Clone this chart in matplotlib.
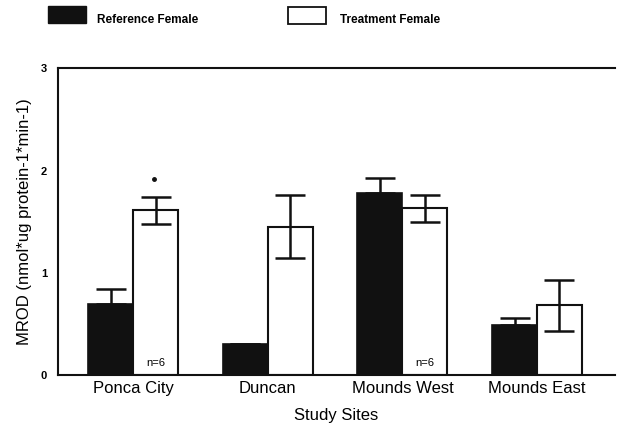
import numpy as np
import matplotlib.pyplot as plt

# MROD activity per study site
sites = ['Ponca City', 'Duncan', 'Mounds West', 'Mounds East']
ref_mean = [0.69, 0.30, 1.78, 0.49]
ref_err = [0.15, 0.0, 0.15, 0.07]
trt_mean = [1.61, 1.45, 1.63, 0.68]
trt_err = [0.13, 0.31, 0.13, 0.25]
n_labels = ['n=6', '', 'n=6', '']

plt.rcParams['font.family'] = ['Liberation Sans', 'DejaVu Sans']

fig = plt.figure(figsize=(6.19, 4.40), dpi=100)
ax = fig.add_axes([0.0937, 0.1477, 0.900, 0.697])

x = np.arange(len(sites))
w = 0.334

ax.bar(x - w / 2, ref_mean, w, color='#111111', edgecolor='#111111', linewidth=1.2)
ax.bar(x + w / 2, trt_mean, w, color='white', edgecolor='#111111', linewidth=1.5)

# reference bars only show the upper whisker
up = [e if e > 0 else np.nan for e in ref_err]
ax.errorbar(x - w / 2, ref_mean, yerr=[np.zeros(len(up)), np.nan_to_num(up)],
            fmt='none', ecolor='#111111', elinewidth=1.8, capsize=11, capthick=1.8)
ax.errorbar(x + w / 2, trt_mean, yerr=trt_err, fmt='none', ecolor='#111111',
            elinewidth=1.8, capsize=11, capthick=1.8)

for xi, t in zip(x, n_labels):
    if t:
        ax.text(xi + w / 2, 0.12, t, ha='center', va='center', fontsize=8)

# significance marker above Ponca City treatment
ax.plot(x[0] + w / 2 - 0.01, trt_mean[0] + trt_err[0] + 0.18, 'o', color='#111111', ms=2.5)

ax.set_xlim(-0.558, 3.58)
ax.set_ylim(0, 3)
ax.set_yticks([0, 1, 2, 3])
ax.set_yticklabels(['0', '1', '2', '3'], fontsize=8, fontweight='bold')
ax.set_xticks(x)
ax.set_xticklabels(sites, fontsize=12)
ax.tick_params(axis='both', length=0)
ax.tick_params(axis='y', pad=8)
ax.tick_params(axis='x', pad=4)
ax.spines['right'].set_visible(False)
for s in ['left', 'top', 'bottom']:
    ax.spines[s].set_linewidth(1.5)
    ax.spines[s].set_color('#111111')

ax.set_xlabel('Study Sites', fontsize=12, labelpad=9)
ax.set_ylabel('MROD (nmol*ug protein-1*min-1)', fontsize=12, labelpad=6)

# legend drawn in figure coordinates
fig.patches.append(plt.Rectangle((48 / 619, 1 - 23 / 440), 38 / 619, 17 / 440,
                                 transform=fig.transFigure, facecolor='#111111',
                                 edgecolor='#111111'))
fig.text(97 / 619, 1 - 20 / 440, 'Reference Female', fontsize=8.5,
         fontweight='bold', va='center')
fig.patches.append(plt.Rectangle((288 / 619, 1 - 24 / 440), 38 / 619, 17 / 440,
                                 transform=fig.transFigure, facecolor='white',
                                 edgecolor='#111111', linewidth=1.3))
fig.text(340 / 619, 1 - 20 / 440, 'Treatment Female', fontsize=8.5,
         fontweight='bold', va='center')

fig.savefig('out.png', dpi=100)
